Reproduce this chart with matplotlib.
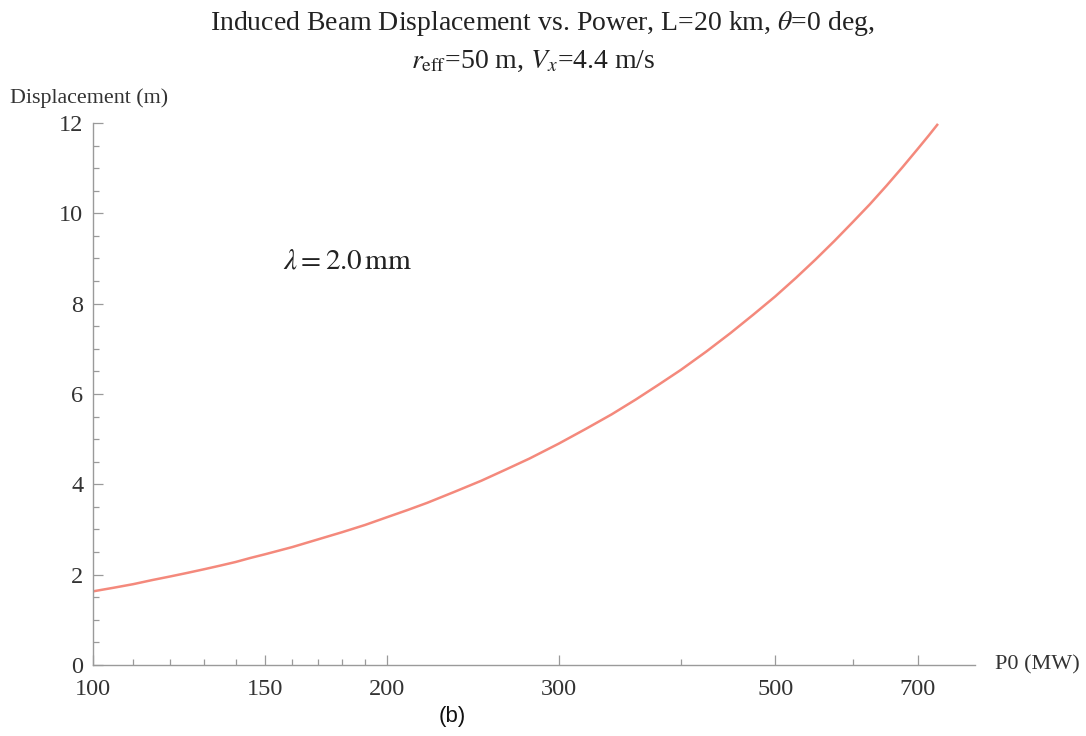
"""
Induced beam displacement vs. power, panel (b).
"""

import matplotlib

matplotlib.use("Agg")
import matplotlib.pyplot as plt
from matplotlib.ticker import FixedLocator, NullFormatter

# values
power_mw = [100, 105, 110, 115, 120, 125, 130, 135, 140, 145, 150, 160, 170,
            180, 190, 200, 210, 220, 235, 250, 265, 280, 300, 320, 340, 360,
            380, 400, 425, 450, 475, 500, 525, 550, 575, 600, 625, 650, 675,
            700, 718, 734]
displacement_m = [1.63, 1.71, 1.79, 1.88, 1.96, 2.04, 2.12, 2.20, 2.28, 2.37,
                  2.45, 2.61, 2.78, 2.94, 3.10, 3.27, 3.43, 3.59, 3.84, 4.08,
                  4.33, 4.57, 4.90, 5.23, 5.55, 5.88, 6.21, 6.53, 6.94, 7.35,
                  7.76, 8.16, 8.57, 8.98, 9.39, 9.80, 10.20, 10.61, 11.02,
                  11.43, 11.72, 11.98]

x_major = [100, 150, 200, 300, 500, 700]
x_minor = [110, 120, 130, 140, 160, 170, 180, 190, 400, 600]
y_major = [0, 2, 4, 6, 8, 10, 12]
y_minor = [v + d for v in range(0, 12, 2) for d in (0.5, 1.0, 1.5)]

plt.rcParams["font.family"] = ["Liberation Serif", "DejaVu Serif"]
plt.rcParams["mathtext.fontset"] = "stix"

spine_col = "#9a9a9a"
text_col = "#333333"


def main() -> None:
    fig = plt.figure(figsize=(10.86, 7.36), dpi=100)
    ax = fig.add_axes([0.0856, 0.0965, 0.8122, 0.7364])

    ax.plot(power_mw, displacement_m, color="#f4897c", linewidth=1.8,
            solid_capstyle="butt")

    ax.set_xscale("log")
    ax.set_xlim(100, 801)
    ax.set_ylim(0, 12)

    ax.xaxis.set_major_locator(FixedLocator(x_major))
    ax.xaxis.set_minor_locator(FixedLocator(x_minor))
    ax.xaxis.set_minor_formatter(NullFormatter())
    ax.set_xticklabels([str(v) for v in x_major])
    ax.yaxis.set_major_locator(FixedLocator(y_major))
    ax.yaxis.set_minor_locator(FixedLocator(y_minor))

    for side in ("top", "right"):
        ax.spines[side].set_visible(False)
    for side in ("left", "bottom"):
        ax.spines[side].set_color(spine_col)
        ax.spines[side].set_linewidth(1.0)

    ax.tick_params(which="major", direction="in", length=7, width=0.9,
                   color=spine_col, labelsize=17.5, labelcolor=text_col)
    ax.tick_params(which="minor", direction="in", length=4, width=0.9,
                   color=spine_col)
    ax.tick_params(axis="x", which="major", pad=10)
    ax.tick_params(axis="y", which="major", pad=7)

    fig.text(0.499, 0.968, "Induced Beam Displacement vs. Power, L=20 km, $\\theta$=0 deg,",
             ha="center", va="center", fontsize=20, color="#222222")
    fig.text(0.491, 0.916, "$r_{\\mathrm{eff}}$=50 m, $V_x$=4.4 m/s",
             ha="center", va="center", fontsize=20, color="#222222")

    fig.text(0.009, 0.867, "Displacement (m)", ha="left", va="center",
             fontsize=15.8, color=text_col)
    fig.text(0.916, 0.0965, "P0 (MW)", ha="left", va="center",
             fontsize=16, color=text_col)

    ax.text(0.215, 0.745, "$\\lambda = 2.0\\,\\mathrm{mm}$", transform=ax.transAxes,
            ha="left", va="center", fontsize=21, color="#222222")

    fig.text(0.416, 0.027, "(b)", ha="center", va="center", fontsize=16,
             family=["Liberation Sans", "DejaVu Sans"], color="#111111")

    fig.savefig("out.png", dpi=100)


if __name__ == "__main__":
    main()
